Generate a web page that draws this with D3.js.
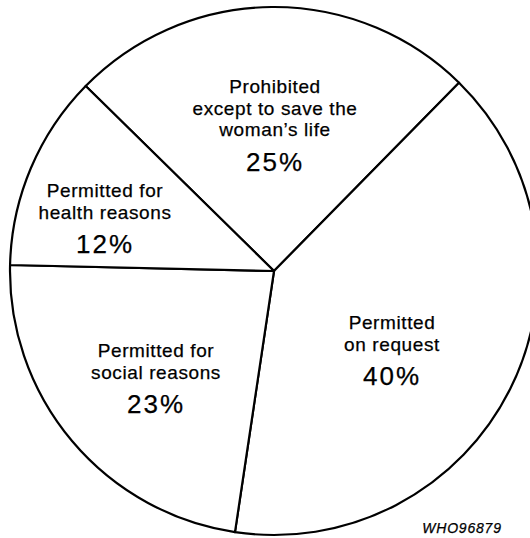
<!DOCTYPE html>
<html>
<head>
<meta charset="utf-8">
<script src="https://cdn.jsdelivr.net/npm/d3@7"></script>
<style>
  html, body { margin: 0; padding: 0; background: #fff; }
  svg { display: block; }
  text { font-family: "Liberation Sans", Arial, Helvetica, sans-serif; fill: #000; stroke: #000; stroke-width: 0.25px; }
</style>
</head>
<body>
<svg id="chart" width="530" height="538"></svg>
<script>
// Legal grounds on which abortion is permitted (share of countries)
const categories = [
  "Prohibited except to save the woman's life",
  "Permitted on request",
  "Permitted for social reasons",
  "Permitted for health reasons"
];
const labelLines = [
  ["Prohibited", "except to save the", "woman\u2019s life"],
  ["Permitted", "on request"],
  ["Permitted for", "social reasons"],
  ["Permitted for", "health reasons"]
];
const values = [25, 40, 23, 12];
const sourceCode = "WHO96879";

const width = 530, height = 538;
const cx = 274, cy = 271, radius = 264;

const svg = d3.select("#chart");
const g = svg.append("g").attr("transform", `translate(${cx},${cy})`);

const start = -45.5 * Math.PI / 180;
const pie = d3.pie().sort(null).value(d => d.value)
  .startAngle(start).endAngle(start + 2 * Math.PI);
const arcs = pie(categories.map((c, i) => ({ name: c, value: values[i], lines: labelLines[i] })));
const arc = d3.arc().innerRadius(0).outerRadius(radius);

g.selectAll("path.slice")
  .data(arcs)
  .join("path")
  .attr("class", "slice")
  .attr("d", arc)
  .attr("fill", "#fff")
  .attr("stroke", "#000")
  .attr("stroke-width", 2.2)
  .attr("stroke-linejoin", "round");

// label blocks: first-baseline anchor relative to the pie centre
const labelAnchor = [[1, -178], [118, 58], [-118, 86], [-169, -74]];
const lineStep = 21.5, pctGap = 34.5;

const labels = g.selectAll("g.label")
  .data(arcs)
  .join("g")
  .attr("class", "label")
  .attr("transform", (d, i) => `translate(${labelAnchor[i][0]},${labelAnchor[i][1]})`);

labels.each(function(d) {
  const sel = d3.select(this);
  d.data.lines.forEach((ln, j) => {
    sel.append("text")
      .attr("x", 0)
      .attr("y", j * lineStep)
      .attr("text-anchor", "middle")
      .style("font-size", "19px")
      .style("letter-spacing", "0.6px")
      .text(ln);
  });
  sel.append("text")
    .attr("x", 0)
    .attr("y", (d.data.lines.length - 1) * lineStep + pctGap)
    .attr("text-anchor", "middle")
    .style("font-size", "26px")
    .style("letter-spacing", "2px")
    .text(d3.format(".0f")(d.data.value) + "%");
});

svg.append("text")
  .attr("x", 462)
  .attr("y", 533)
  .attr("text-anchor", "middle")
  .style("font-size", "14px")
  .style("font-style", "italic")
  .style("letter-spacing", "0.8px")
  .text(sourceCode);
</script>
</body>
</html>
